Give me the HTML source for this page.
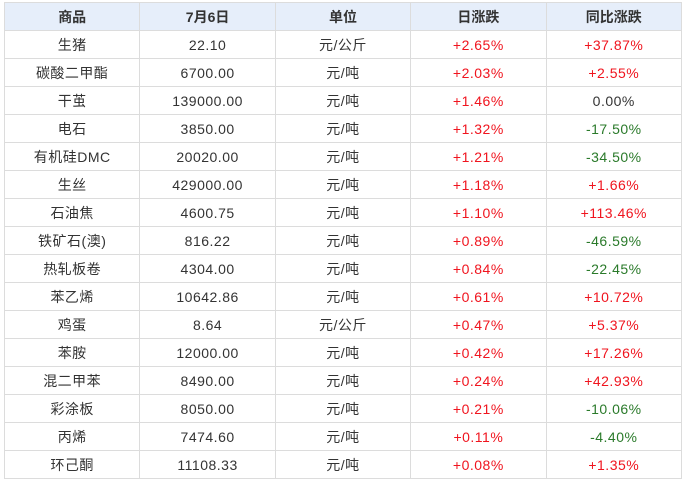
<!DOCTYPE html>
<html><head><meta charset="utf-8"><style>
html,body{margin:0;padding:0;background:#fff;width:684px;height:481px;overflow:hidden}
table{position:absolute;left:4px;top:2px;border-collapse:collapse;table-layout:fixed;width:678px;font-family:"Liberation Sans","Noto Sans CJK SC",sans-serif;font-size:14px;color:#333}
td,th{border:1px solid #dcdcdc;text-align:center;padding:0;height:27px;letter-spacing:0.5px;white-space:nowrap}
th{background:#e6eefa;height:27px;font-weight:bold;font-size:14px;color:#333;letter-spacing:0}
.r{color:#f0141e}.g{color:#2a7a2a}
</style></head><body>
<table>
<tr><th>商品</th><th>7月6日</th><th>单位</th><th>日涨跌</th><th>同比涨跌</th></tr>
<tr><td>生猪</td><td>22.10</td><td>元/公斤</td><td class="r">+2.65%</td><td class="r">+37.87%</td></tr>
<tr><td>碳酸二甲酯</td><td>6700.00</td><td>元/吨</td><td class="r">+2.03%</td><td class="r">+2.55%</td></tr>
<tr><td>干茧</td><td>139000.00</td><td>元/吨</td><td class="r">+1.46%</td><td>0.00%</td></tr>
<tr><td>电石</td><td>3850.00</td><td>元/吨</td><td class="r">+1.32%</td><td class="g">-17.50%</td></tr>
<tr><td>有机硅DMC</td><td>20020.00</td><td>元/吨</td><td class="r">+1.21%</td><td class="g">-34.50%</td></tr>
<tr><td>生丝</td><td>429000.00</td><td>元/吨</td><td class="r">+1.18%</td><td class="r">+1.66%</td></tr>
<tr><td>石油焦</td><td>4600.75</td><td>元/吨</td><td class="r">+1.10%</td><td class="r">+113.46%</td></tr>
<tr><td>铁矿石(澳)</td><td>816.22</td><td>元/吨</td><td class="r">+0.89%</td><td class="g">-46.59%</td></tr>
<tr><td>热轧板卷</td><td>4304.00</td><td>元/吨</td><td class="r">+0.84%</td><td class="g">-22.45%</td></tr>
<tr><td>苯乙烯</td><td>10642.86</td><td>元/吨</td><td class="r">+0.61%</td><td class="r">+10.72%</td></tr>
<tr><td>鸡蛋</td><td>8.64</td><td>元/公斤</td><td class="r">+0.47%</td><td class="r">+5.37%</td></tr>
<tr><td>苯胺</td><td>12000.00</td><td>元/吨</td><td class="r">+0.42%</td><td class="r">+17.26%</td></tr>
<tr><td>混二甲苯</td><td>8490.00</td><td>元/吨</td><td class="r">+0.24%</td><td class="r">+42.93%</td></tr>
<tr><td>彩涂板</td><td>8050.00</td><td>元/吨</td><td class="r">+0.21%</td><td class="g">-10.06%</td></tr>
<tr><td>丙烯</td><td>7474.60</td><td>元/吨</td><td class="r">+0.11%</td><td class="g">-4.40%</td></tr>
<tr><td>环己酮</td><td>11108.33</td><td>元/吨</td><td class="r">+0.08%</td><td class="r">+1.35%</td></tr>
</table>
</body></html>
